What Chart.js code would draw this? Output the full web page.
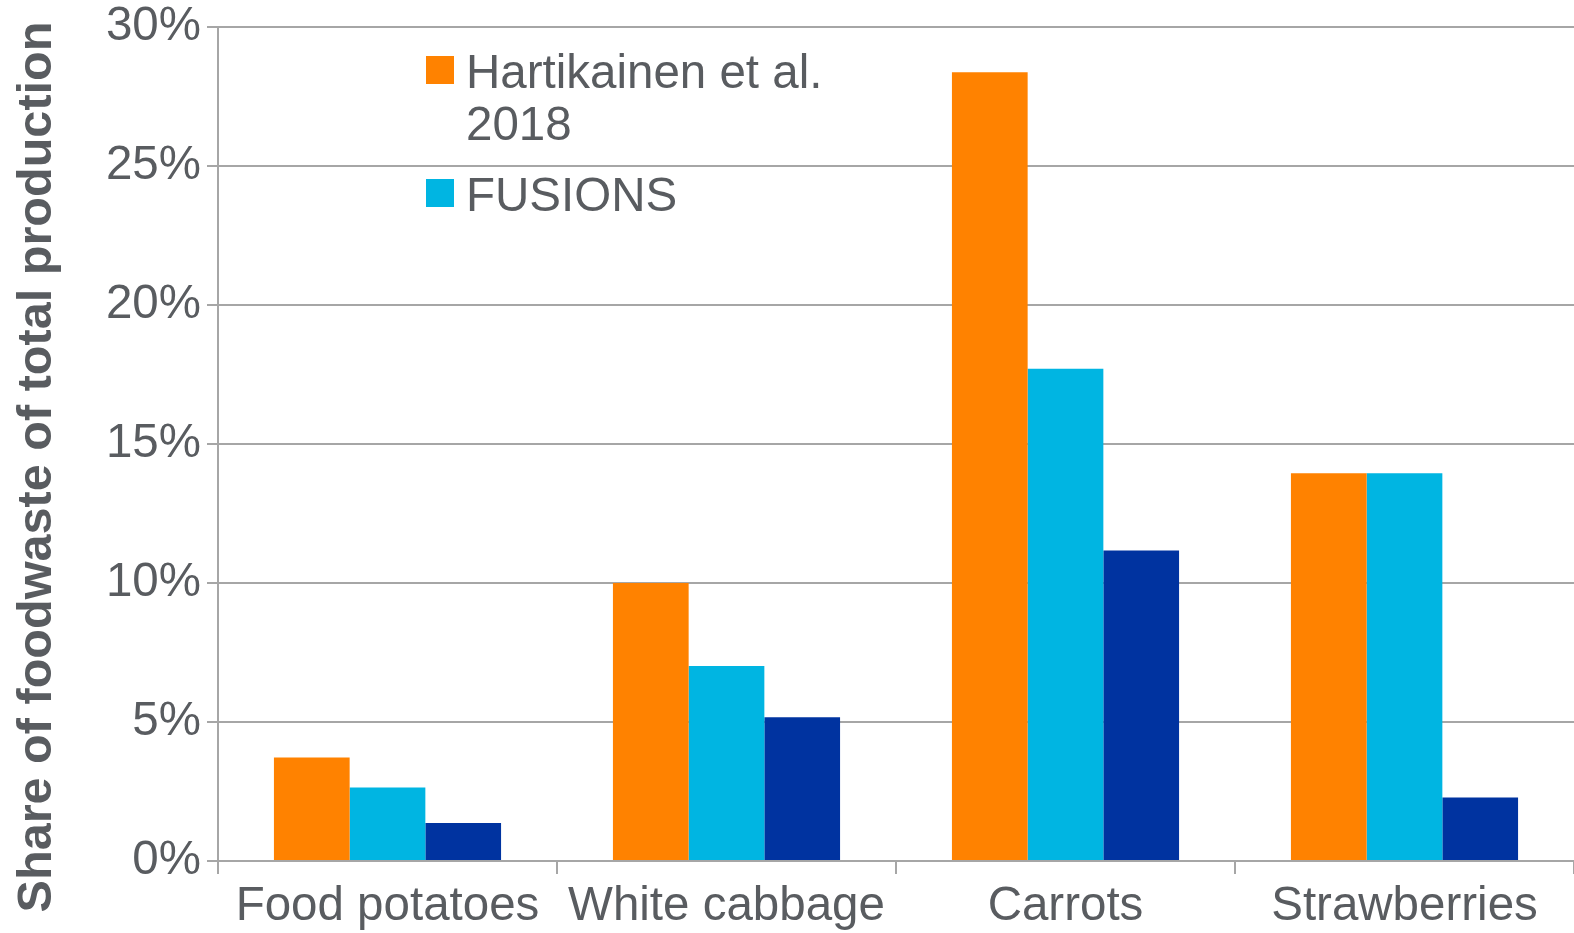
<!DOCTYPE html>
<html>
<head>
<meta charset="utf-8">
<script src="https://cdn.jsdelivr.net/npm/chart.js@4/dist/chart.umd.min.js"></script>
<style>
  html, body { margin: 0; padding: 0; background: #fff; }
  #wrap { width: 1574px; height: 933px; position: relative; }
</style>
</head>
<body>
<div id="wrap"><canvas id="chart"></canvas></div>
<script>
const categories = ["Food potatoes", "White cabbage", "Carrots", "Strawberries"];
const hartikainen = [3.72, 10.0, 28.37, 13.95];
const fusions = [2.64, 7.01, 17.71, 13.95];
const series3 = [1.37, 5.17, 11.17, 2.28];
const seriesNames = [["Hartikainen et al.", "2018"], ["FUSIONS"], ["Series 3"]];
const seriesColors = ["#ff8200", "#00b5e2", "#0033a0"];
const yTicks = [0, 5, 10, 15, 20, 25, 30];
const yTitle = "Share of foodwaste of total production";

const textColor = "#595c60";
const gridColor = "#a6a6a6";

// legend drawn inside the plot, only the first two series are shown
const insideLegend = {
  id: "insideLegend",
  afterDraw(chart) {
    const ctx = chart.ctx;
    ctx.save();
    ctx.font = "47.5px 'Liberation Sans'";
    ctx.textBaseline = "alphabetic";
    let y = 56;
    [0, 1].forEach(i => {
      ctx.fillStyle = seriesColors[i];
      ctx.fillRect(426, y, 28, 28);
      ctx.fillStyle = textColor;
      seriesNames[i].forEach((line, j) => {
        ctx.fillText(line, 466, y + 32 + j * 52);
      });
      y += 123;
    });
    ctx.restore();
  }
};

// rotated y axis title, centred a bit lower than the plot like the original
const yTitlePlugin = {
  id: "yTitlePlugin",
  afterDraw(chart) {
    const ctx = chart.ctx;
    ctx.save();
    ctx.translate(51, 467);
    ctx.rotate(-Math.PI / 2);
    ctx.font = "bold 48.6px 'Liberation Sans'";
    ctx.fillStyle = textColor;
    ctx.textAlign = "center";
    ctx.textBaseline = "alphabetic";
    ctx.fillText(yTitle, 0, 0);
    ctx.restore();
  }
};

new Chart(document.getElementById("chart"), {
  type: "bar",
  data: {
    labels: categories,
    datasets: [
      { label: seriesNames[0].join(" "), data: hartikainen, backgroundColor: seriesColors[0] },
      { label: seriesNames[1].join(" "), data: fusions, backgroundColor: seriesColors[1] },
      { label: seriesNames[2].join(" "), data: series3, backgroundColor: seriesColors[2] }
    ]
  },
  options: {
    responsive: true,
    maintainAspectRatio: false,
    animation: false,
    categoryPercentage: 0.67,
    barPercentage: 1.0,
    layout: { padding: { top: 27, right: 0, left: 0, bottom: 0 } },
    plugins: {
      legend: { display: false },
      tooltip: { enabled: false }
    },
    scales: {
      x: {
        grid: {
          offset: true,
          drawOnChartArea: false,
          drawTicks: true,
          tickLength: 13,
          color: gridColor,
          lineWidth: 2
        },
        border: { color: gridColor, width: 2 },
        ticks: {
          color: textColor,
          font: { family: "Liberation Sans", size: 47.5 },
          padding: 4,
          maxRotation: 0,
          autoSkip: false
        },
        afterFit(scale) { scale.height = 72; }
      },
      y: {
        min: 0,
        max: 30,
        afterBuildTicks(scale) { scale.ticks = yTicks.map(v => ({ value: v })); },
        grid: { color: gridColor, lineWidth: 2, tickLength: 11 },
        border: { color: gridColor, width: 2 },
        ticks: {
          color: textColor,
          font: { family: "Liberation Sans", size: 47.5, lineHeight: 0.6 },
          padding: 6,
          callback: v => v + "%"
        },
        afterFit(scale) { scale.width = 218; }
      }
    }
  },
  plugins: [insideLegend, yTitlePlugin]
});
</script>
</body>
</html>
